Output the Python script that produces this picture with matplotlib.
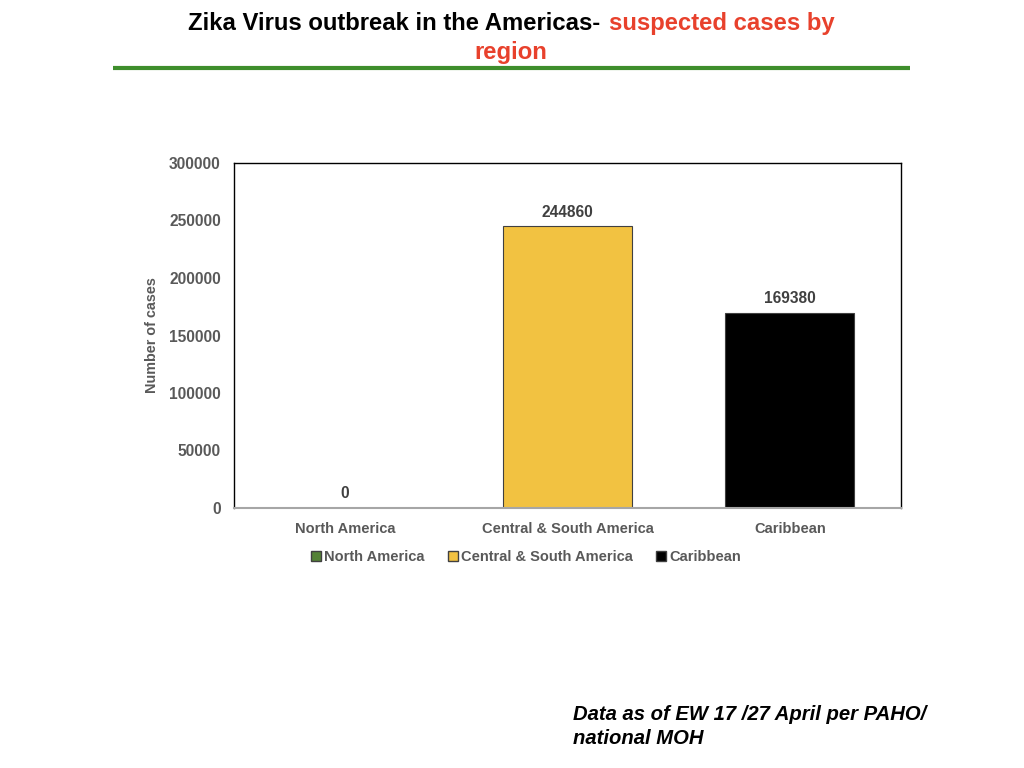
import matplotlib.pyplot as plt
from matplotlib.patches import Patch

# data
regions = ['North America', 'Central & South America', 'Caribbean']
cases = [0, 244860, 169380]
bar_colors = ['#548235', '#f2c241', '#000000']
y_ticks = [0, 50000, 100000, 150000, 200000, 250000, 300000]

plt.rcParams['font.family'] = ['Liberation Sans', 'DejaVu Sans']
gray = '#595959'

fig = plt.figure(figsize=(10.24, 7.68), dpi=100)
ax = fig.add_axes([234 / 1024, 1 - 508 / 768, 667 / 1024, 345 / 768])

x = range(len(regions))
bars = ax.bar(x, cases, width=0.58, color=bar_colors, edgecolor='#404040', linewidth=0.8)
for b, v in zip(bars, cases):
    ax.text(b.get_x() + b.get_width() / 2, v + 6000, str(v), ha='center', va='bottom',
            fontsize=11.2, fontweight='bold', color='#404040')

ax.set_xlim(-0.5, 2.5)
ax.set_ylim(0, 300000)
ax.set_yticks(y_ticks)
ax.set_yticklabels([str(t) for t in y_ticks], fontsize=11.2, fontweight='bold', color=gray)
ax.set_xticks(list(x))
ax.set_xticklabels(regions, fontsize=10.5, fontweight='bold', color=gray)
ax.tick_params(axis='y', length=0, pad=9.5)
ax.tick_params(axis='x', length=0, pad=10)
ax.set_ylabel('Number of cases', fontsize=10.4, fontweight='bold', color=gray, labelpad=7)
for s in ['left', 'top', 'right']:
    ax.spines[s].set_color('black')
    ax.spines[s].set_linewidth(1)
ax.spines['bottom'].set_color('#a6a6a6')
ax.spines['bottom'].set_linewidth(1.5)

handles = [Patch(facecolor=c, edgecolor='#404040', label=r) for c, r in zip(bar_colors, regions)]
leg = fig.legend(handles=handles, loc='center', bbox_to_anchor=(526 / 1024, 1 - 557 / 768),
                 ncol=3, frameon=False, handlelength=0.7, handleheight=0.7,
                 handletextpad=0.2, columnspacing=1.6,
                 prop={'size': 10.5, 'weight': 'bold'})
for t in leg.get_texts():
    t.set_color(gray)

# title in two colours
t1 = fig.text(188 / 1024, 1 - 23.5 / 768, 'Zika Virus outbreak in the Americas- ', fontsize=17.2,
              fontweight='bold', color='black', va='center', ha='left')
fig.canvas.draw()
bb = t1.get_window_extent()
fig.text(bb.x1 / 1024 + 2 / 1024, 1 - 23.5 / 768, 'suspected cases by', fontsize=17.2,
         fontweight='bold', color='#e8412c', va='center', ha='left')
fig.text(511 / 1024, 1 - 53 / 768, 'region', fontsize=17.2, fontweight='bold',
         color='#e8412c', va='center', ha='center')

fig.add_artist(plt.Line2D([113 / 1024, 910 / 1024], [1 - 68 / 768, 1 - 68 / 768],
                          color='#3e8e2c', linewidth=3, solid_capstyle='butt'))

fig.text(573 / 1024, 1 - 714.5 / 768, 'Data as of EW 17 /27 April per PAHO/', fontsize=14.6,
         fontweight='bold', style='italic', va='center', ha='left')
fig.text(573 / 1024, 1 - 738.5 / 768, 'national MOH', fontsize=14.6,
         fontweight='bold', style='italic', va='center', ha='left')

fig.savefig('out.png', dpi=100)
